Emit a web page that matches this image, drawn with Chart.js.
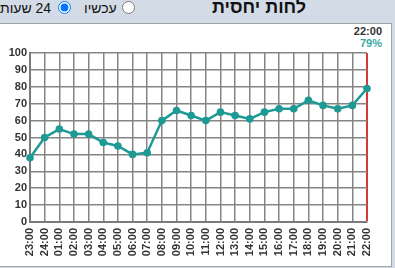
<!DOCTYPE html>
<html>
<head>
<meta charset="utf-8">
<script src="https://cdn.jsdelivr.net/npm/chart.js@4/dist/chart.umd.min.js"></script>
<style>
  html, body { margin:0; padding:0; }
  body { width:395px; height:268px; background:#d3dbe6; position:relative; overflow:hidden; font-family:"Liberation Sans", Arial, sans-serif; }
  #panel { position:absolute; left:-1px; top:23px; width:393px; height:244px; box-sizing:border-box; background:#fff; border:1px solid #a3a3a3; }
  #c { position:absolute; left:0; top:24px; }
  .title { position:absolute; top:-3px; left:212px; font-weight:bold; font-size:18px; color:#111; direction:rtl; }
  .lbl { position:absolute; top:0px; font-size:14px; color:#111; direction:rtl; }
  input[type=radio] { position:absolute; margin:0; width:13px; height:13px; }
  .stamp { position:absolute; right:13px; font-weight:bold; font-size:11px; text-align:right; }
</style>
</head>
<body>
<div class="title">לחות יחסית</div>
<input type="radio" style="left:122px; top:1px;">
<span class="lbl" style="left:84px;">עכשיו</span>
<input type="radio" checked style="left:58px; top:1px;">
<span class="lbl" style="left:0px;">24 שעות</span>
<div id="panel"></div>
<div class="stamp" style="top:25px; color:#333;">22:00</div>
<div class="stamp" style="top:37px; color:#3aa9a0;">79%</div>
<canvas id="c" width="390" height="242"></canvas>
<script>
const hours = ["23:00","24:00","01:00","02:00","03:00","04:00","05:00","06:00","07:00","08:00","09:00","10:00","11:00","12:00","13:00","14:00","15:00","16:00","17:00","18:00","19:00","20:00","21:00","22:00"];
const humidity = [38,50,55,52,52,47,45,40,41,60,66,63,60,65,63,61,65,67,67,72,69,67,69,79];
const yTicks = [0,10,20,30,40,50,60,70,80,90,100];

new Chart(document.getElementById('c'), {
  type: 'line',
  data: {
    labels: hours,
    datasets: [{
      data: humidity,
      borderColor: '#1e9a94',
      backgroundColor: '#1e9a94',
      borderWidth: 2.5,
      pointRadius: 3.8,
      pointBorderWidth: 0,
      pointBackgroundColor: '#1e9a94',
      tension: 0
    }]
  },
  options: {
    responsive: false,
    devicePixelRatio: 1,
    animation: false,
    layout: { padding: { left: 0, right: 23, top: 29, bottom: 0 } },
    plugins: { legend: { display: false }, tooltip: { enabled: false } },
    scales: {
      x: {
        type: 'category',
        offset: false,
        grid: {
          offset: false,
          drawTicks: false,
          color: (c) => c.index === hours.length - 1 ? '#d43a3a' : '#858585',
          lineWidth: (c) => c.index === hours.length - 1 ? 2 : 1.5
        },
        border: { display: true, color: '#7a7a7a', width: 2 },
        ticks: {
          autoSkip: false, maxRotation: 90, minRotation: 90, padding: 6,
          color: '#333', font: { family: 'Liberation Sans', size: 11, weight: 'bold' }
        },
        afterFit: (s) => { s.height = 44; }
      },
      y: {
        min: 0, max: 100,
        afterBuildTicks: (s) => { s.ticks = yTicks.map(v => ({ value: v })); },
        grid: { drawTicks: false, color: '#858585', lineWidth: 1.5 },
        border: { display: true, color: '#7a7a7a', width: 2 },
        ticks: {
          padding: 3, color: '#333',
          font: { family: 'Liberation Sans', size: 11, weight: 'bold' }
        },
        afterFit: (s) => { s.width = 30; }
      }
    }
  }
});
</script>
</body>
</html>
